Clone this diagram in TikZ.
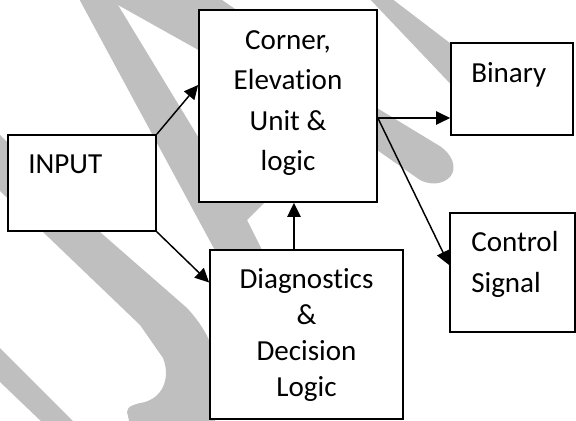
\documentclass[tikz,border=0pt]{standalone}
\usepackage{fontspec}
\setmainfont{Carlito}[Ligatures=NoCommon]
\usetikzlibrary{arrows.meta}
\tikzset{
	blk/.style={draw, line width=1.3pt, fill=white, inner sep=0pt},
	lbl/.style={inner sep=0pt, font=\fontsize{21.8}{30.5}\selectfont},
	arr/.style={line width=1.1pt, -{Triangle[length=10.5pt, width=10pt]}},
	wm/.style={fill=black!25, draw=none}
}

\begin{document}
\begin{tikzpicture}[x=0.75pt, y=-0.75pt]
		%%%%% START %%%%%
		\useasboundingbox (0, 0) rectangle (576, 421);
		
		% watermark behind the blocks
		\begin{scope}
		\clip (0, 0) rectangle (576, 421);
		\fill[wm] (77, -5) -- (125, -5) -- (118, 5) -- (200, 140) -- (272, 195) -- (247, 220) -- (265, 256) -- (218, 256) -- cycle;
		\fill[wm] (118, -5) -- (215, -5) -- (377, 108) -- (438, 145) .. controls (452, 153) and (458, 168) .. (450, 177) .. controls (442, 185) and (430, 185) .. (420, 180) -- (377, 150) -- (118, 5) -- cycle;
		\fill[wm] (366, -5) -- (387, -5) -- (480, 66) -- (480, 115) -- cycle;
		\fill[wm] (0, 135) -- (100, 232) -- (187, 308) .. controls (200, 322) and (212, 340) .. (215, 360) -- (215, 425) -- (130, 425) -- (127, 412) .. controls (127, 406) and (135, 404) .. (145, 402) .. controls (165, 396) and (170, 375) .. (163, 358) -- (140, 325) -- (43, 232) -- (0, 191) -- cycle;
		\fill[wm] (0, 348) -- (77, 425) -- (45, 425) -- (0, 382) -- cycle;
		\end{scope}
		
		% blocks
		\node[blk, minimum width=111pt, minimum height=72pt] (inp) at (82, 183) {};
		\node[blk, minimum width=133.5pt, minimum height=144pt] (cel) at (288, 106) {};
		\node[blk, minimum width=91.5pt, minimum height=69pt] (bin) at (512, 89) {};
		\node[blk, minimum width=93.75pt, minimum height=89.25pt] (ctl) at (512.5, 272.5) {};
		\node[blk, minimum width=144.75pt, minimum height=126.75pt] (dia) at (306.5, 334.5) {};
		
		% texts (base = last line)
		\node[lbl, anchor=base west] (inptxt) at (28, 173) {INPUT};
		\node[lbl, anchor=base, align=center] (celtxt) at (288, 171) {Corner,\\Elevation\\Unit \&\\logic};
		\node[lbl, anchor=base west] (bintxt) at (471, 82) {Binary};
		\node[lbl, anchor=base west, align=left] (ctltxt) at (471, 292) {Control\\Signal};
		\node[lbl, anchor=base, align=center, font=\fontsize{21.8}{27}\selectfont] (diatxt) at (306.5, 396) {Diagnostics\\\&\\Decision\\Logic};
		
		% arrows
		\draw[arr] (inp.north east) -- ([yshift=15.75pt]cel.west);
		\draw[arr] (inp.south east) -- ([yshift=39pt]dia.west);
		\draw[arr] ([xshift=-9.4pt]dia.north) -- ([xshift=-9.4pt]dia.north |- cel.south);
		\coordinate (celout) at ([yshift=-9pt]cel.east);
		\draw[arr] (celout) -- (celout -| bin.west);
		\draw[arr] (celout) -- ([yshift=5.6pt]ctl.west);
		
		%%%%% END %%%%%
	\end{tikzpicture}
\end{document}
